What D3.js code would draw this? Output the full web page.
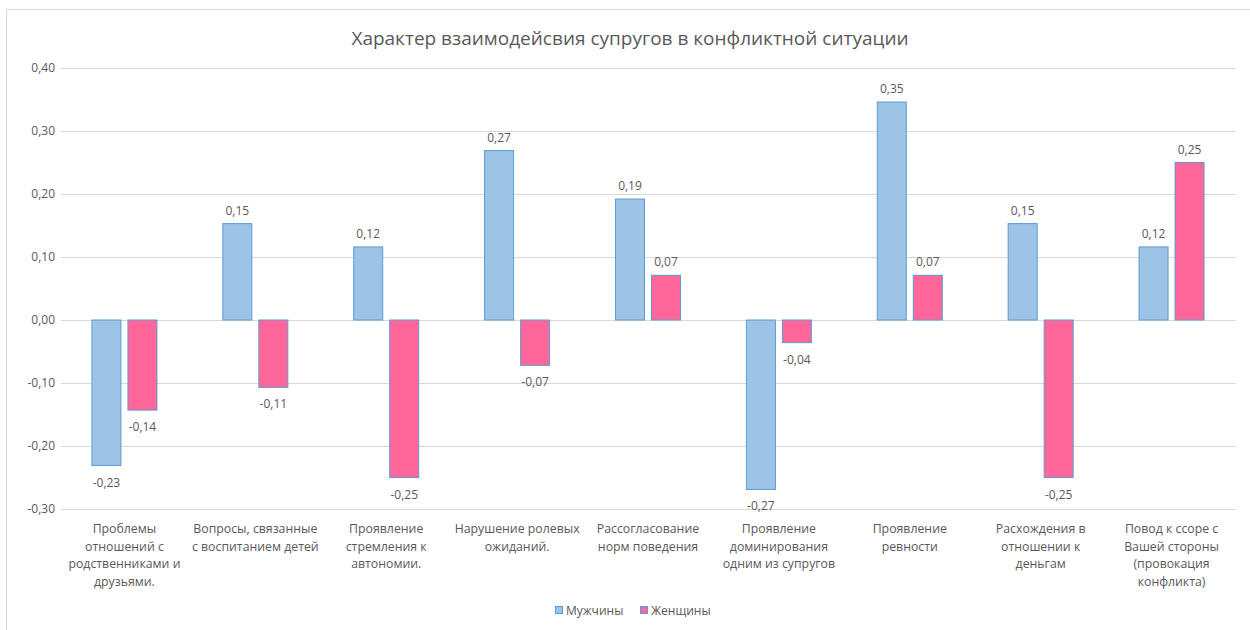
<!DOCTYPE html>
<html>
<head>
<meta charset="utf-8">
<script src="https://cdn.jsdelivr.net/npm/d3@7"></script>
<style>
  body { margin: 0; background: #fff; }
  svg text { font-family: "Open Sans", "Noto Sans", sans-serif; fill: #595959; }
</style>
</head>
<body>
<svg id="chart" width="1250" height="630"></svg>
<script>
// data
var categories = [
  "Проблемы\nотношений с\nродственниками и\nдрузьями.",
  "Вопросы, связанные\nс воспитанием детей",
  "Проявление\nстремления к\nавтономии.",
  "Нарушение ролевых\nожиданий.",
  "Рассогласование\nнорм поведения",
  "Проявление\nдоминирования\nодним из супругов",
  "Проявление\nревности",
  "Расхождения в\nотношении к\nденьгам",
  "Повод к ссоре с\nВашей стороны\n(провокация\nконфликта)"
];
var seriesNames = ["Мужчины", "Женщины"];
var men   = [-0.231, 0.153, 0.116, 0.269, 0.192, -0.269, 0.346, 0.153, 0.116];
var women = [-0.143, -0.107, -0.25, -0.072, 0.071, -0.036, 0.071, -0.25, 0.25];
var yTicks = [-0.3, -0.2, -0.1, 0, 0.1, 0.2, 0.3, 0.4];

var fills = ["#9DC3E6", "#FF6699"];
var stroke = "#5B9BD5";

var svg = d3.select("#chart");
// plot area (don't call these "top" - window.top is read-only)
var plotL = 59, plotR = 1237, plotT = 68, plotB = 509;

// chart border
svg.append("rect")
  .attr("x", 6.5).attr("y", 9.5)
  .attr("width", 1260).attr("height", 640)
  .attr("fill", "none").attr("stroke", "#D9D9D9");

svg.append("text")
  .attr("x", 630).attr("y", 45)
  .attr("text-anchor", "middle")
  .style("font-size", "19px")
  .text("Характер взаимодейсвия супругов в конфликтной ситуации");

var x = d3.scaleBand().domain(d3.range(categories.length)).range([plotL, plotR]);
var y = d3.scaleLinear().domain([-0.3, 0.4]).range([plotB, plotT]);
var fmt = function(v){ return d3.format(".2f")(v).replace(".", ",").replace("−", "-"); };

// grid + y axis
var yAxis = d3.axisLeft(y).tickValues(yTicks).tickSize(-(plotR - plotL - 3)).tickFormat(fmt);
var gy = svg.append("g").attr("transform", "translate(" + (plotL + 2) + ",0)").call(yAxis);
gy.select(".domain").remove();
gy.selectAll(".tick line").attr("stroke", "#D9D9D9");
gy.selectAll(".tick text").attr("x", -6).style("font-size", "12px").attr("fill", "#595959")
  .style("font-family", "'Open Sans', sans-serif");

var barW = 29, gap = 7;
var series = [men, women];
series.forEach(function(vals, s) {
  var off = s === 0 ? -gap / 2 - barW : gap / 2;
  svg.append("g").selectAll("rect")
    .data(vals).enter().append("rect")
    .attr("x", function(d, i){ return x(i) + x.bandwidth() / 2 + off; })
    .attr("y", function(d){ return Math.min(y(d), y(0)); })
    .attr("width", barW)
    .attr("height", function(d){ return Math.abs(y(d) - y(0)); })
    .attr("fill", fills[s])
    .attr("stroke", stroke).attr("stroke-width", 1);

  svg.append("g").selectAll("text")
    .data(vals).enter().append("text")
    .attr("x", function(d, i){ return x(i) + x.bandwidth() / 2 + off + barW / 2; })
    .attr("y", function(d){ return d >= 0 ? y(d) - 9 : y(d) + 21; })
    .attr("text-anchor", "middle")
    .style("font-size", "12px")
    .text(fmt);
});

// category labels
var catG = svg.append("g").selectAll("text")
  .data(categories).enter().append("text")
  .attr("text-anchor", "middle")
  .style("font-size", "12.3px");
catG.each(function(c, i) {
  var t = d3.select(this);
  c.split("\n").forEach(function(line, k) {
    t.append("tspan")
      .attr("x", x(i) + x.bandwidth() / 2)
      .attr("y", 533 + k * 17.5)
      .text(line);
  });
});

// legend
var lg = svg.append("g");
var legX = [555, 640];
seriesNames.forEach(function(n, s) {
  lg.append("rect").attr("x", legX[s] + 0.5).attr("y", 606.5).attr("width", 7).attr("height", 7)
    .attr("fill", fills[s]).attr("stroke", stroke);
  lg.append("text").attr("x", legX[s] + 11).attr("y", 615).style("font-size", "12px").text(n);
});
</script>
</body>
</html>
